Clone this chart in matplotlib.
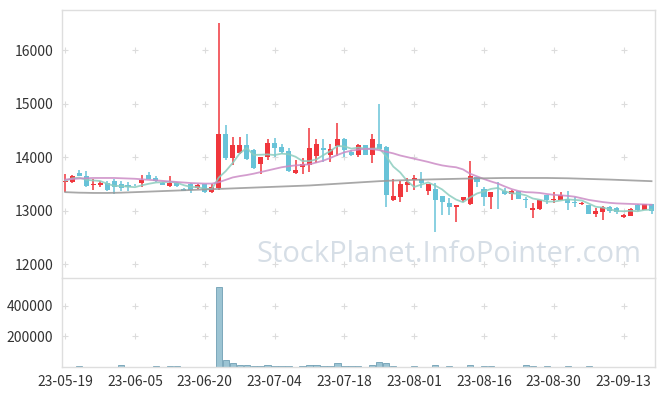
import numpy as np
import pandas as pd
import matplotlib
matplotlib.use('Agg')
import matplotlib.pyplot as plt

plt.rcParams['font.family'] = ['Noto Sans CJK KR', 'DejaVu Sans']

# trading days shown on the x axis (only every 10th is labelled)
tick_labels = ['23-05-19', '23-06-05', '23-06-20', '23-07-04', '23-07-18',
               '23-08-01', '23-08-16', '23-08-30', '23-09-13']

# daily prices
opens = [13530, 13530, 13700, 13645, 13485, 13480, 13515, 13560, 13490, 13470,
         13480, 13525, 13670, 13610, 13520, 13465, 13515, 13405, 13505, 13430,
         13490, 13345, 13430, 14440, 13985, 14080, 14235, 14127, 13865, 14000,
         14270, 14190, 14110, 13700, 13815, 13845, 14020, 14170, 14045, 14200,
         14333, 14095, 14045, 14220, 14045, 14250, 14180, 13190, 13250, 13485,
         13580, 13595, 13365, 13400, 13265, 13140, 13065, 13190, 13125, 13620,
         13410, 13255, 13350, 13375, 13315, 13360, 13210, 13010, 13030, 13290,
         13190, 13200, 13220, 13160, 13130, 13100, 12940, 12970, 13065, 13040,
         12875, 12900, 13110, 13020, 13120]
highs = [13690, 13660, 13750, 13740, 13595, 13560, 13550, 13590, 13560, 13540,
         13500, 13660, 13730, 13640, 13540, 13640, 13540, 13420, 13510, 13490,
         13500, 13490, 16510, 14600, 14380, 14380, 14440, 14160, 14010, 14330,
         14350, 14250, 14170, 13950, 13990, 14535, 14330, 14330, 14240, 14630,
         14360, 14130, 14250, 14230, 14425, 14985, 14200, 13595, 13560, 13610,
         13660, 13720, 13500, 13520, 13280, 13230, 13110, 13250, 13930, 13625,
         13440, 13350, 13530, 13420, 13390, 13370, 13250, 13140, 13200, 13300,
         13340, 13340, 13370, 13260, 13170, 13110, 13040, 13080, 13080, 13060,
         12930, 13040, 13120, 13130, 13130]
lows = [13340, 13520, 13640, 13450, 13390, 13440, 13370, 13310, 13360, 13370,
        13460, 13450, 13590, 13530, 13470, 13440, 13440, 13360, 13320, 13410,
        13330, 13330, 13390, 13950, 13845, 14050, 13950, 13780, 13690, 13950,
        14000, 14060, 13720, 13690, 13680, 13730, 13890, 13910, 13900, 14020,
        14000, 14030, 14010, 14040, 13895, 14150, 13075, 13180, 13155, 13350,
        13390, 13430, 13300, 12600, 12925, 12925, 12780, 13160, 13110, 13435,
        13095, 13030, 13030, 13300, 13190, 13210, 13050, 12860, 13020, 13120,
        13150, 13190, 13010, 13060, 13110, 12930, 12880, 12830, 12950, 12940,
        12860, 12890, 13000, 13010, 12940]
closes = [13560, 13645, 13645, 13460, 13505, 13515, 13390, 13450, 13430, 13450,
          13470, 13565, 13595, 13545, 13480, 13515, 13465, 13370, 13380, 13470,
          13345, 13450, 14440, 13985, 14235, 14235, 13960, 13790, 14000, 14270,
          14170, 14095, 13735, 13765, 13865, 14170, 14250, 14140, 14145, 14333,
          14130, 14045, 14235, 14045, 14333, 14160, 13300, 13280, 13490, 13530,
          13610, 13515, 13490, 13195, 13170, 13065, 13110, 13245, 13640, 13540,
          13255, 13345, 13340, 13315, 13360, 13220, 13190, 13045, 13195, 13190,
          13225, 13290, 13145, 13150, 13140, 12940, 12985, 13065, 13000, 12970,
          12920, 13030, 13020, 13120, 13000]

# 20-day and 60-day averages as drawn (they reach back before the first day)
ma20 = [13580, 13590, 13600, 13605, 13610, 13610, 13610, 13610, 13605, 13600,
        13595, 13585, 13575, 13565, 13555, 13545, 13535, 13525, 13515, 13510,
        13505, 13505, 13530, 13575, 13620, 13645, 13665, 13690, 13720, 13750,
        13780, 13810, 13830, 13845, 13855, 13865, 13900, 13935, 13985, 14040,
        14090, 14120, 14140, 14155, 14150, 14130, 14100, 14070, 14030, 14000,
        13970, 13940, 13910, 13875, 13845, 13825, 13810, 13770, 13690, 13640,
        13590, 13545, 13505, 13450, 13400, 13365, 13345, 13340, 13330, 13310,
        13295, 13285, 13275, 13260, 13230, 13200, 13180, 13160, 13145, 13135,
        13130, 13125, 13120, 13115, 13110]
ma60 = [13345, 13340, 13335, 13333, 13330, 13330, 13330, 13332, 13335, 13340,
        13345, 13350, 13355, 13360, 13365, 13370, 13375, 13380, 13385, 13390,
        13395, 13400, 13405, 13410, 13415, 13420, 13425, 13430, 13435, 13440,
        13445, 13450, 13455, 13460, 13465, 13470, 13478, 13486, 13494, 13502,
        13510, 13518, 13526, 13534, 13542, 13550, 13556, 13562, 13566, 13570,
        13574, 13578, 13582, 13585, 13588, 13591, 13594, 13597, 13600, 13602,
        13604, 13606, 13608, 13610, 13610, 13610, 13610, 13610, 13610, 13610,
        13608, 13606, 13604, 13600, 13596, 13592, 13588, 13584, 13580, 13575,
        13570, 13565, 13560, 13555, 13550]

volumes = [2000, 1000, 5000, 1000, 1000, 1000, 1000, 1000, 12000, 1000,
           1000, 1000, 1000, 5000, 1000, 5000, 5000, 1000, 1000, 1000,
           1000, 1000, 523000, 45000, 25000, 12000, 12000, 5000, 5000, 10000,
           5000, 5000, 5000, 1000, 5000, 10000, 10000, 5000, 5000, 25000,
           5000, 5000, 5000, 1000, 10000, 30000, 25000, 5000, 1000, 1000,
           5000, 1000, 1000, 10000, 1000, 5000, 1000, 1000, 10000, 1000,
           5000, 5000, 1000, 1000, 1000, 1000, 10000, 5000, 1000, 5000,
           1000, 1000, 5000, 1000, 1000, 5000, 1000, 1000, 1000, 1000,
           1000, 1000, 1000, 1000, 1000]

up_color = '#f0363c'
down_color = '#68c3d8'
frame_color = '#dedede'

o = np.array(opens)
c = np.array(closes)
x = np.arange(len(o))
ma5 = pd.Series(closes).rolling(5, min_periods=1).mean()

fig = plt.figure(figsize=(6.65, 3.96), dpi=100)
ax = fig.add_axes([61.7/665, 1 - 278/396, 593.3/665, 268/396])
axv = fig.add_axes([61.7/665, 1 - 367/396, 593.3/665, 89/396], sharex=ax)

colors = np.where(c >= o, up_color, down_color)
ax.vlines(x, lows, highs, colors=colors, linewidth=1.1, zorder=2)
body = np.maximum(np.abs(c - o), 12)
ax.bar(x, body, bottom=np.minimum(o, c), width=0.72, color=colors, linewidth=0, zorder=3)

ax.plot(x, ma5, color='#8ccdbf', linewidth=1.3, alpha=0.85, zorder=4)
ax.plot(x, ma20, color='#cc8cc6', linewidth=1.3, alpha=0.85, zorder=4)
ax.plot(x, ma60, color='#999999', linewidth=1.3, alpha=0.85, zorder=4)

ax.text(0.652, 0.088, 'StockPlanet.InfoPointer.com', transform=ax.transAxes,
        ha='center', va='center', fontsize=21, color='#d6dee6',
        family=['Open Sans', 'DejaVu Sans'], zorder=1)

axv.bar(x, volumes, width=0.9, color='#9cc4d3', edgecolor='#6f9fb4', linewidth=0.6)

xt = np.arange(0, len(o), 10)
ax.set_xlim(-0.5, len(o) - 0.5)
ax.set_ylim(11740, 16750)
ax.set_yticks([12000, 13000, 14000, 15000, 16000])
axv.set_ylim(0, 580000)
axv.set_yticks([200000, 400000])
axv.set_xticks(xt)
axv.set_xticklabels(tick_labels)

# '+' marks at the grid crossings
for a, ys in [(ax, [12000, 13000, 14000, 15000, 16000]), (axv, [200000, 400000])]:
    gx, gy = np.meshgrid(xt, ys)
    a.scatter(gx.ravel(), gy.ravel(), marker='+', s=16, color='#dcdcdc', linewidths=0.8, zorder=0)
    for s in a.spines.values():
        s.set_color(frame_color)
        s.set_linewidth(1)
    a.tick_params(length=0, labelsize=10, colors='#333333', pad=6)

plt.setp(ax.get_xticklabels(), visible=False)
ax.spines['bottom'].set_visible(False)

fig.savefig('out.png', dpi=100, facecolor='white')
